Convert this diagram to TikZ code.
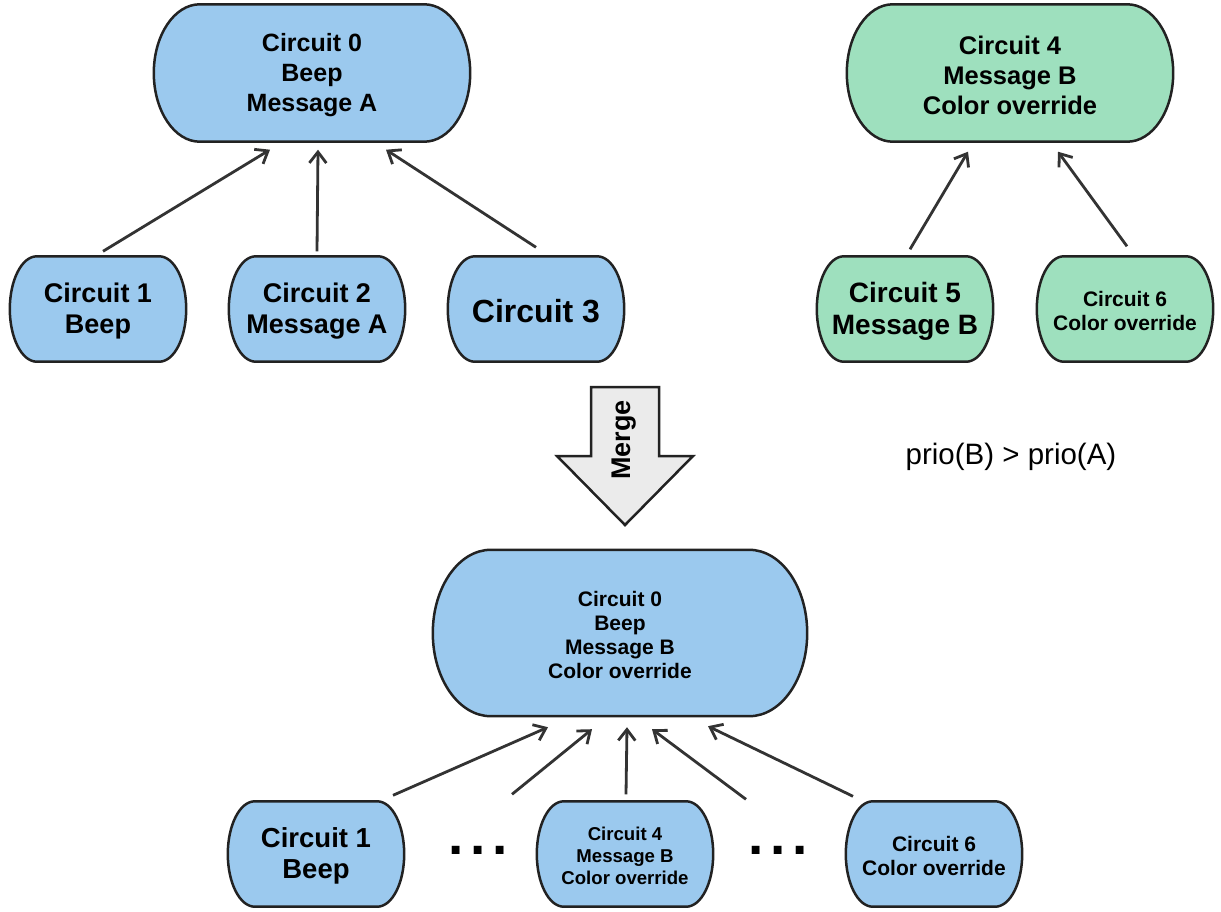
\documentclass[tikz,border=0pt]{standalone}
\usepackage{fontspec}
\setmainfont{Liberation Sans}
\usetikzlibrary{calc,arrows.meta,backgrounds}
\definecolor{cblue}{HTML}{9BC9EE}
\definecolor{cgreen}{HTML}{9EE0BE}
\definecolor{cline}{HTML}{222222}
\definecolor{carrow}{HTML}{333333}
\definecolor{cgray}{HTML}{EBEBEB}
\newcommand\fs[2]{\fontsize{#1}{#2}\selectfont}
% capsule drawn 2pt above the node box so that text sits slightly low, as in the reference
\newcommand\capsule[3]{%
  \path let \p1=([yshift=2pt]#1.north west), \p2=([yshift=2pt]#1.south east), \n1={(\y1-\y2)/2} in
    [draw=cline, line width=2.5pt, fill=#3]
    (\x1+#2pt,\y1) -- (\x2-#2pt,\y1)
    arc[start angle=90, end angle=-90, x radius=#2pt, y radius={\n1*1pt}]
    -- (\x1+#2pt,\y2)
    arc[start angle=270, end angle=90, x radius=#2pt, y radius={\n1*1pt}]
    -- cycle;}
\tikzset{
  capnode/.style={rectangle, inner sep=0pt, align=center, text=black},
  arr/.style={draw=carrow, line width=2.8pt, -{Straight Barb[length=11pt,width=17pt,line width=2.8pt]}},
  dotsnode/.style={anchor=base, font=\bfseries\fs{55}{55}},
}
\begin{document}
\begin{tikzpicture}[x=1pt,y=-1pt]
\useasboundingbox (0,0) rectangle (1221,911);
% top left tree
\node[capnode, minimum width=316pt, minimum height=137pt, font=\bfseries\fs{25}{30}] (t0) at (312,75) {Circuit 0\\Beep\\Message A};
\node[capnode, minimum width=176pt, minimum height=105pt, font=\bfseries\fs{27}{31}] (t1) at (98,311) {Circuit 1\\Beep};
\node[capnode, minimum width=176pt, minimum height=105pt, font=\bfseries\fs{27}{31}] (t2) at (317,311) {Circuit 2\\Message A};
\node[capnode, minimum width=176pt, minimum height=105pt, font=\bfseries\fs{32}{36}] (t3) at (536,311) {Circuit 3};
% top right tree
\node[capnode, minimum width=326pt, minimum height=137pt, font=\bfseries\fs{25.5}{30}] (t4) at (1010,75) {Circuit 4\\Message B\\Color override};
\node[capnode, minimum width=176pt, minimum height=105pt, font=\bfseries\fs{28}{32}] (t5) at (905,311) {Circuit 5\\Message B};
\node[capnode, minimum width=176pt, minimum height=105pt, font=\bfseries\fs{21}{24}] (t6) at (1125,311) {Circuit 6\\Color override};
% priority
\node[font=\fs{29.5}{34}] (prio) at (1011,457) {prio(B) {\textgreater} prio(A)};
% merge arrow
\coordinate (mtop) at (625,387);
\coordinate (mtip) at (625,525);
\draw[draw=cline, line width=2.5pt, fill=cgray, line join=miter]
  ($(mtop)+(-34,0)$) -- ($(mtop)+(34,0)$) -- ($(mtop)+(34,69)$) -- ($(mtop)+(68,69)$)
  -- (mtip) -- ($(mtop)+(-68,69)$) -- ($(mtop)+(-34,69)$) -- cycle;
\node[rotate=90, font=\bfseries\fs{27}{30}] (merge) at (624,440) {Merge};
% bottom tree
\node[capnode, minimum width=374pt, minimum height=166pt, font=\bfseries\fs{21}{24}] (b0) at (620,635) {Circuit 0\\Beep\\Message B\\Color override};
\node[capnode, minimum width=176pt, minimum height=105pt, font=\bfseries\fs{27.5}{31}] (b1) at (316,856) {Circuit 1\\Beep};
\node[capnode, minimum width=176pt, minimum height=105pt, font=\bfseries\fs{18.6}{22}] (b4) at (625,856) {Circuit 4\\Message B\\Color override};
\node[capnode, minimum width=176pt, minimum height=105pt, font=\bfseries\fs{21}{24}] (b6) at (934,856) {Circuit 6\\Color override};
\node[dotsnode] (d1) at (478,854) {.\kern6.7pt.\kern6.7pt.};
\node[dotsnode] (d2) at (778,854) {.\kern6.7pt.\kern6.7pt.};
% shapes behind text
\begin{pgfonlayer}{background}
\capsule{t0}{46}{cblue}
\capsule{t1}{27}{cblue}
\capsule{t2}{27}{cblue}
\capsule{t3}{27}{cblue}
\capsule{t4}{46}{cgreen}
\capsule{t5}{27}{cgreen}
\capsule{t6}{27}{cgreen}
\capsule{b0}{58}{cblue}
\capsule{b1}{27}{cblue}
\capsule{b4}{27}{cblue}
\capsule{b6}{27}{cblue}
\end{pgfonlayer}
% connectors
\draw[arr] ([xshift=5pt,yshift=7pt]t1.north) -- ([xshift=-42pt,yshift=-6pt]t0.south);
\draw[arr] ([xshift=0pt,yshift=7pt]t2.north) -- ([xshift=6pt,yshift=-6pt]t0.south);
\draw[arr] ([xshift=0pt,yshift=11pt]t3.north) -- ([xshift=74pt,yshift=-6pt]t0.south);
\draw[arr] ([xshift=5pt,yshift=9pt]t5.north) -- ([xshift=-42pt,yshift=-8pt]t4.south);
\draw[arr] ([xshift=2pt,yshift=12pt]t6.north) -- ([xshift=48pt,yshift=-8pt]t4.south);
\draw[arr] ([xshift=77pt,yshift=8pt]b1.north) -- ([xshift=-72pt,yshift=-9pt]b0.south);
\draw[arr] ([xshift=-113pt,yshift=9pt]b4.north) -- ([xshift=-28pt,yshift=-11pt]b0.south);
\draw[arr] ([xshift=1pt,yshift=9pt]b4.north) -- ([xshift=7pt,yshift=-9pt]b0.south);
\draw[arr] ([xshift=121pt,yshift=4pt]b4.north) -- ([xshift=32pt,yshift=-11pt]b0.south);
\draw[arr] ([xshift=-81pt,yshift=7pt]b6.north) -- ([xshift=88pt,yshift=-8pt]b0.south);
\end{tikzpicture}
\end{document}
